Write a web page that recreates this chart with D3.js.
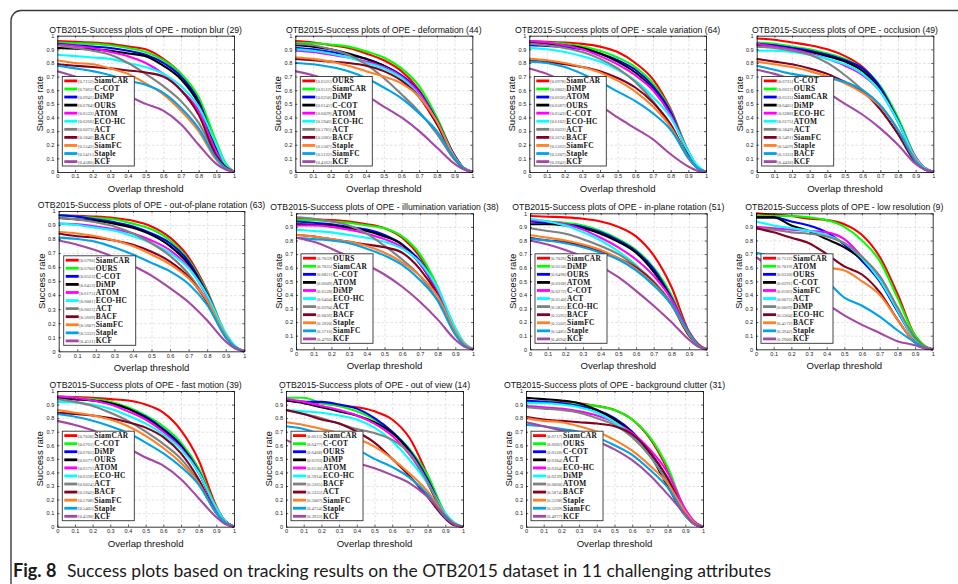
<!DOCTYPE html>
<html>
<head>
<meta charset="utf-8">
<script src="https://cdn.jsdelivr.net/npm/d3@7.9.0/dist/d3.min.js"></script>
<style>
  body { margin: 0; background: #fff; }
  svg { display: block; }
</style>
</head>
<body>
<svg id="fig" width="958" height="584"></svg>
<script>
const thresholds = [0, 0.1, 0.2, 0.3, 0.4, 0.5, 0.6, 0.7, 0.8, 0.9, 0.95, 1];
const tickValues = [0, 0.1, 0.2, 0.3, 0.4, 0.5, 0.6, 0.7, 0.8, 0.9, 1];
const tickLabels = ["0", "0.1", "0.2", "0.3", "0.4", "0.5", "0.6", "0.7", "0.8", "0.9", "1"];

// colours go by rank in the legend, not by tracker
const rankColors = ["#ff0000", "#00ff00", "#0000ff", "#000000", "#ff00ff", "#00ffff",
  "#808080", "#820020", "#ff7f27", "#00a2e8", "#a349a4"];

const titles = [
  "OTB2015-Success plots of OPE - motion blur (29)",
  "OTB2015-Success plots of OPE - deformation (44)",
  "OTB2015-Success plots of OPE - scale variation (64)",
  "OTB2015-Success plots of OPE - occlusion (49)",
  "OTB2015-Success plots of OPE - out-of-plane rotation (63)",
  "OTB2015-Success plots of OPE - illumination variation (38)",
  "OTB2015-Success plots of OPE - in-plane rotation (51)",
  "OTB2015-Success plots of OPE - low resolution (9)",
  "OTB2015-Success plots of OPE - fast motion (39)",
  "OTB2015-Success plots of OPE - out of view (14)",
  "OTB2015-Success plots of OPE - background clutter (31)"
];

const motionBlur = [
  ["SiamCAR", 0.7152, [0.96, 0.955, 0.95, 0.94, 0.92, 0.90, 0.83, 0.72, 0.53, 0.19, 0.06, 0]],
  ["C-COT", 0.7062, [0.95, 0.945, 0.94, 0.93, 0.91, 0.88, 0.82, 0.72, 0.55, 0.22, 0.07, 0]],
  ["DiMP", 0.6941, [0.94, 0.93, 0.92, 0.91, 0.89, 0.86, 0.80, 0.70, 0.52, 0.18, 0.05, 0]],
  ["OURS", 0.6784, [0.91, 0.905, 0.90, 0.89, 0.87, 0.85, 0.78, 0.68, 0.50, 0.16, 0.05, 0]],
  ["ATOM", 0.6533, [0.935, 0.925, 0.91, 0.88, 0.85, 0.80, 0.72, 0.60, 0.45, 0.15, 0.04, 0]],
  ["ECO-HC", 0.6266, [0.86, 0.85, 0.84, 0.83, 0.80, 0.77, 0.72, 0.63, 0.48, 0.20, 0.06, 0]],
  ["ACT", 0.6073, [0.93, 0.91, 0.89, 0.86, 0.80, 0.72, 0.63, 0.52, 0.36, 0.12, 0.04, 0]],
  ["BACF", 0.5846, [0.79, 0.78, 0.77, 0.76, 0.745, 0.73, 0.70, 0.60, 0.42, 0.12, 0.04, 0]],
  ["SiamFC", 0.5542, [0.82, 0.80, 0.79, 0.76, 0.72, 0.65, 0.57, 0.45, 0.30, 0.09, 0.03, 0]],
  ["Staple", 0.5411, [0.78, 0.76, 0.74, 0.71, 0.67, 0.64, 0.58, 0.47, 0.32, 0.10, 0.03, 0]],
  ["KCF", 0.4586, [0.74, 0.70, 0.66, 0.62, 0.56, 0.50, 0.45, 0.35, 0.20, 0.06, 0.02, 0]]
];

const deformation = [
  ["OURS", 0.6521, [0.96, 0.95, 0.93, 0.91, 0.87, 0.82, 0.74, 0.60, 0.38, 0.12, 0.03, 0]],
  ["SiamCAR", 0.6512, [0.95, 0.945, 0.935, 0.92, 0.885, 0.84, 0.76, 0.63, 0.40, 0.12, 0.03, 0]],
  ["DiMP", 0.6250, [0.91, 0.90, 0.88, 0.86, 0.83, 0.78, 0.71, 0.59, 0.38, 0.12, 0.03, 0]],
  ["C-COT", 0.6141, [0.93, 0.92, 0.90, 0.87, 0.83, 0.78, 0.70, 0.57, 0.36, 0.11, 0.03, 0]],
  ["ATOM", 0.6029, [0.89, 0.88, 0.86, 0.84, 0.81, 0.77, 0.70, 0.58, 0.37, 0.11, 0.03, 0]],
  ["ECO-HC", 0.5946, [0.90, 0.89, 0.87, 0.84, 0.80, 0.76, 0.69, 0.56, 0.36, 0.11, 0.03, 0]],
  ["ACT", 0.5781, [0.94, 0.93, 0.90, 0.86, 0.79, 0.69, 0.57, 0.44, 0.28, 0.09, 0.03, 0]],
  ["BACF", 0.5685, [0.83, 0.82, 0.81, 0.80, 0.78, 0.74, 0.67, 0.55, 0.35, 0.10, 0.03, 0]],
  ["Staple", 0.5507, [0.84, 0.83, 0.81, 0.78, 0.74, 0.70, 0.65, 0.55, 0.37, 0.11, 0.03, 0]],
  ["SiamFC", 0.5122, [0.80, 0.79, 0.77, 0.74, 0.69, 0.62, 0.54, 0.43, 0.30, 0.10, 0.03, 0]],
  ["KCF", 0.4362, [0.74, 0.71, 0.67, 0.62, 0.56, 0.48, 0.40, 0.30, 0.18, 0.06, 0.02, 0]]
];

const scaleVariation = [
  ["SiamCAR", 0.6978, [0.96, 0.955, 0.95, 0.94, 0.92, 0.88, 0.80, 0.68, 0.46, 0.15, 0.04, 0]],
  ["DiMP", 0.6802, [0.96, 0.95, 0.94, 0.92, 0.89, 0.84, 0.77, 0.65, 0.45, 0.15, 0.04, 0]],
  ["ATOM", 0.6636, [0.93, 0.925, 0.915, 0.90, 0.87, 0.82, 0.75, 0.63, 0.44, 0.14, 0.04, 0]],
  ["OURS", 0.6587, [0.95, 0.94, 0.93, 0.91, 0.87, 0.81, 0.73, 0.61, 0.42, 0.14, 0.04, 0]],
  ["C-COT", 0.6543, [0.96, 0.95, 0.93, 0.90, 0.85, 0.79, 0.71, 0.60, 0.42, 0.15, 0.04, 0]],
  ["ECO-HC", 0.6102, [0.91, 0.90, 0.88, 0.85, 0.81, 0.75, 0.67, 0.55, 0.40, 0.15, 0.05, 0]],
  ["ACT", 0.6022, [0.94, 0.93, 0.91, 0.88, 0.83, 0.76, 0.66, 0.52, 0.33, 0.10, 0.03, 0]],
  ["BACF", 0.5674, [0.82, 0.81, 0.79, 0.77, 0.74, 0.69, 0.62, 0.51, 0.35, 0.11, 0.03, 0]],
  ["SiamFC", 0.5562, [0.83, 0.82, 0.80, 0.77, 0.73, 0.67, 0.59, 0.48, 0.33, 0.11, 0.03, 0]],
  ["Staple", 0.5207, [0.81, 0.80, 0.77, 0.72, 0.66, 0.59, 0.52, 0.43, 0.31, 0.11, 0.03, 0]],
  ["KCF", 0.3942, [0.76, 0.72, 0.66, 0.58, 0.49, 0.40, 0.32, 0.24, 0.13, 0.04, 0.01, 0]]
];

const occlusion = [
  ["C-COT", 0.6735, [0.98, 0.97, 0.95, 0.93, 0.90, 0.85, 0.77, 0.62, 0.38, 0.10, 0.03, 0]],
  ["OURS", 0.6622, [0.95, 0.94, 0.92, 0.90, 0.87, 0.83, 0.76, 0.63, 0.40, 0.11, 0.03, 0]],
  ["SiamCAR", 0.6535, [0.94, 0.93, 0.91, 0.89, 0.86, 0.82, 0.76, 0.62, 0.38, 0.10, 0.03, 0]],
  ["DiMP", 0.6405, [0.93, 0.92, 0.90, 0.88, 0.85, 0.81, 0.74, 0.60, 0.37, 0.10, 0.03, 0]],
  ["ECO-HC", 0.6288, [0.94, 0.92, 0.90, 0.87, 0.83, 0.78, 0.71, 0.59, 0.37, 0.11, 0.03, 0]],
  ["ATOM", 0.6175, [0.89, 0.89, 0.88, 0.86, 0.83, 0.79, 0.72, 0.59, 0.37, 0.10, 0.03, 0]],
  ["ACT", 0.5849, [0.92, 0.91, 0.89, 0.86, 0.80, 0.71, 0.60, 0.46, 0.28, 0.08, 0.02, 0]],
  ["SiamFC", 0.5491, [0.83, 0.81, 0.79, 0.76, 0.72, 0.66, 0.59, 0.46, 0.28, 0.07, 0.02, 0]],
  ["Staple", 0.5429, [0.81, 0.79, 0.77, 0.74, 0.70, 0.65, 0.58, 0.48, 0.31, 0.09, 0.02, 0]],
  ["BACF", 0.5333, [0.78, 0.75, 0.72, 0.70, 0.69, 0.66, 0.60, 0.49, 0.31, 0.08, 0.02, 0]],
  ["KCF", 0.4430, [0.75, 0.72, 0.68, 0.64, 0.58, 0.50, 0.42, 0.32, 0.20, 0.06, 0.02, 0]]
];

const outOfPlane = [
  ["SiamCAR", 0.6790, [0.97, 0.965, 0.96, 0.95, 0.93, 0.89, 0.81, 0.67, 0.43, 0.12, 0.03, 0]],
  ["OURS", 0.6700, [0.97, 0.96, 0.95, 0.94, 0.91, 0.87, 0.79, 0.65, 0.42, 0.12, 0.03, 0]],
  ["C-COT", 0.6523, [0.97, 0.96, 0.94, 0.92, 0.89, 0.84, 0.77, 0.64, 0.41, 0.12, 0.03, 0]],
  ["DiMP", 0.6453, [0.95, 0.94, 0.93, 0.91, 0.88, 0.83, 0.75, 0.62, 0.40, 0.11, 0.03, 0]],
  ["ATOM", 0.6175, [0.91, 0.905, 0.89, 0.87, 0.84, 0.79, 0.72, 0.60, 0.39, 0.12, 0.03, 0]],
  ["ECO-HC", 0.6081, [0.91, 0.90, 0.88, 0.86, 0.82, 0.77, 0.70, 0.59, 0.40, 0.13, 0.04, 0]],
  ["ACT", 0.6023, [0.95, 0.94, 0.92, 0.89, 0.84, 0.77, 0.68, 0.55, 0.36, 0.11, 0.03, 0]],
  ["BACF", 0.5669, [0.84, 0.82, 0.81, 0.79, 0.76, 0.71, 0.64, 0.53, 0.35, 0.10, 0.03, 0]],
  ["SiamFC", 0.5607, [0.85, 0.84, 0.82, 0.79, 0.75, 0.69, 0.62, 0.52, 0.36, 0.11, 0.03, 0]],
  ["Staple", 0.5332, [0.81, 0.80, 0.78, 0.74, 0.69, 0.63, 0.57, 0.48, 0.33, 0.10, 0.03, 0]],
  ["KCF", 0.4531, [0.79, 0.76, 0.72, 0.67, 0.61, 0.54, 0.45, 0.35, 0.22, 0.07, 0.02, 0]]
];

const illumination = [
  ["OURS", 0.7059, [0.96, 0.955, 0.95, 0.94, 0.92, 0.89, 0.82, 0.68, 0.45, 0.14, 0.04, 0]],
  ["SiamCAR", 0.7035, [0.95, 0.95, 0.94, 0.93, 0.91, 0.89, 0.83, 0.70, 0.46, 0.14, 0.04, 0]],
  ["C-COT", 0.6821, [0.94, 0.93, 0.92, 0.90, 0.88, 0.84, 0.77, 0.65, 0.44, 0.14, 0.04, 0]],
  ["ATOM", 0.6609, [0.92, 0.915, 0.91, 0.89, 0.87, 0.83, 0.77, 0.63, 0.42, 0.13, 0.04, 0]],
  ["DiMP", 0.6528, [0.91, 0.91, 0.90, 0.88, 0.85, 0.81, 0.75, 0.63, 0.43, 0.14, 0.04, 0]],
  ["ECO-HC", 0.6404, [0.88, 0.87, 0.86, 0.84, 0.82, 0.79, 0.74, 0.64, 0.45, 0.16, 0.05, 0]],
  ["ACT", 0.6294, [0.97, 0.96, 0.94, 0.91, 0.85, 0.76, 0.66, 0.54, 0.36, 0.11, 0.03, 0]],
  ["BACF", 0.6036, [0.84, 0.83, 0.81, 0.79, 0.77, 0.75, 0.71, 0.59, 0.40, 0.12, 0.03, 0]],
  ["Staple", 0.5920, [0.84, 0.83, 0.81, 0.79, 0.76, 0.71, 0.64, 0.54, 0.39, 0.13, 0.04, 0]],
  ["SiamFC", 0.5716, [0.82, 0.81, 0.80, 0.78, 0.74, 0.69, 0.62, 0.51, 0.36, 0.11, 0.03, 0]],
  ["KCF", 0.4792, [0.82, 0.79, 0.74, 0.68, 0.62, 0.55, 0.46, 0.35, 0.22, 0.07, 0.02, 0]]
];

const inPlane = [
  ["SiamCAR", 0.7026, [0.98, 0.975, 0.97, 0.96, 0.94, 0.90, 0.83, 0.69, 0.46, 0.13, 0.04, 0]],
  ["DiMP", 0.6550, [0.95, 0.94, 0.93, 0.91, 0.87, 0.81, 0.73, 0.60, 0.40, 0.12, 0.03, 0]],
  ["OURS", 0.6490, [0.94, 0.93, 0.92, 0.90, 0.86, 0.80, 0.72, 0.59, 0.38, 0.12, 0.03, 0]],
  ["ATOM", 0.6368, [0.92, 0.92, 0.91, 0.89, 0.85, 0.79, 0.71, 0.57, 0.37, 0.11, 0.03, 0]],
  ["C-COT", 0.6272, [0.95, 0.94, 0.92, 0.88, 0.82, 0.75, 0.66, 0.54, 0.37, 0.12, 0.03, 0]],
  ["ACT", 0.6140, [0.96, 0.94, 0.91, 0.86, 0.80, 0.72, 0.62, 0.49, 0.33, 0.11, 0.03, 0]],
  ["ECO-HC", 0.5825, [0.89, 0.87, 0.85, 0.81, 0.76, 0.70, 0.61, 0.50, 0.34, 0.11, 0.03, 0]],
  ["BACF", 0.5595, [0.82, 0.80, 0.79, 0.76, 0.72, 0.67, 0.60, 0.49, 0.33, 0.10, 0.03, 0]],
  ["SiamFC", 0.5502, [0.84, 0.82, 0.80, 0.77, 0.73, 0.67, 0.59, 0.48, 0.33, 0.11, 0.03, 0]],
  ["Staple", 0.5485, [0.81, 0.80, 0.78, 0.75, 0.71, 0.66, 0.58, 0.47, 0.33, 0.12, 0.03, 0]],
  ["KCF", 0.4694, [0.80, 0.77, 0.73, 0.68, 0.61, 0.53, 0.43, 0.32, 0.20, 0.07, 0.02, 0]]
];

const lowResolution = [
  ["SiamCAR", 0.7122, [1.0, 0.99, 0.98, 0.96, 0.95, 0.92, 0.84, 0.68, 0.41, 0.10, 0.03, 0]],
  ["ATOM", 0.7019, [0.98, 0.98, 0.98, 0.97, 0.95, 0.90, 0.80, 0.65, 0.38, 0.10, 0.03, 0]],
  ["OURS", 0.6320, [0.97, 0.97, 0.94, 0.91, 0.86, 0.77, 0.65, 0.50, 0.28, 0.07, 0.02, 0]],
  ["C-COT", 0.6291, [0.97, 0.97, 0.91, 0.87, 0.81, 0.75, 0.66, 0.52, 0.30, 0.08, 0.02, 0]],
  ["SiamFC", 0.6183, [0.90, 0.89, 0.88, 0.87, 0.86, 0.81, 0.68, 0.52, 0.30, 0.07, 0.02, 0]],
  ["ACT", 0.6075, [0.94, 0.91, 0.89, 0.87, 0.84, 0.78, 0.67, 0.51, 0.29, 0.07, 0.02, 0]],
  ["DiMP", 0.6069, [0.89, 0.88, 0.86, 0.85, 0.83, 0.78, 0.68, 0.54, 0.31, 0.08, 0.02, 0]],
  ["ECO-HC", 0.5304, [0.89, 0.86, 0.82, 0.78, 0.70, 0.61, 0.55, 0.42, 0.22, 0.05, 0.01, 0]],
  ["BACF", 0.4572, [0.67, 0.64, 0.62, 0.61, 0.60, 0.58, 0.50, 0.40, 0.22, 0.05, 0.01, 0]],
  ["Staple", 0.3942, [0.71, 0.68, 0.64, 0.58, 0.50, 0.38, 0.32, 0.24, 0.14, 0.05, 0.01, 0]],
  ["KCF", 0.2900, [0.68, 0.58, 0.47, 0.39, 0.33, 0.25, 0.18, 0.12, 0.06, 0.03, 0.01, 0]]
];

const fastMotion = [
  ["SiamCAR", 0.7030, [0.96, 0.955, 0.95, 0.94, 0.93, 0.90, 0.84, 0.71, 0.49, 0.15, 0.04, 0]],
  ["C-COT", 0.6761, [0.96, 0.95, 0.94, 0.92, 0.88, 0.82, 0.74, 0.62, 0.43, 0.14, 0.04, 0]],
  ["DiMP", 0.6705, [0.95, 0.94, 0.93, 0.91, 0.87, 0.81, 0.72, 0.60, 0.41, 0.13, 0.04, 0]],
  ["OURS", 0.6677, [0.95, 0.94, 0.93, 0.91, 0.87, 0.80, 0.71, 0.59, 0.40, 0.13, 0.04, 0]],
  ["ATOM", 0.6571, [0.96, 0.95, 0.93, 0.90, 0.85, 0.79, 0.70, 0.58, 0.40, 0.13, 0.04, 0]],
  ["ECO-HC", 0.6339, [0.92, 0.915, 0.90, 0.87, 0.82, 0.76, 0.68, 0.57, 0.40, 0.14, 0.04, 0]],
  ["ACT", 0.6024, [0.94, 0.92, 0.89, 0.84, 0.78, 0.70, 0.61, 0.50, 0.33, 0.10, 0.03, 0]],
  ["BACF", 0.5942, [0.84, 0.83, 0.82, 0.80, 0.77, 0.73, 0.66, 0.54, 0.35, 0.10, 0.03, 0]],
  ["SiamFC", 0.5708, [0.86, 0.84, 0.82, 0.79, 0.74, 0.67, 0.58, 0.47, 0.32, 0.10, 0.03, 0]],
  ["Staple", 0.5405, [0.83, 0.81, 0.78, 0.74, 0.69, 0.62, 0.54, 0.44, 0.31, 0.10, 0.03, 0]],
  ["KCF", 0.4590, [0.78, 0.75, 0.71, 0.65, 0.58, 0.51, 0.45, 0.35, 0.21, 0.07, 0.02, 0]]
];

const outOfView = [
  ["SiamCAR", 0.6613, [0.93, 0.92, 0.91, 0.89, 0.88, 0.85, 0.79, 0.65, 0.38, 0.08, 0.02, 0]],
  ["C-COT", 0.6477, [0.95, 0.95, 0.91, 0.89, 0.85, 0.79, 0.70, 0.57, 0.38, 0.10, 0.03, 0]],
  ["OURS", 0.6468, [0.93, 0.92, 0.92, 0.90, 0.87, 0.80, 0.70, 0.56, 0.35, 0.09, 0.02, 0]],
  ["DiMP", 0.6193, [0.93, 0.91, 0.88, 0.85, 0.82, 0.77, 0.69, 0.55, 0.32, 0.08, 0.02, 0]],
  ["ATOM", 0.6130, [0.94, 0.92, 0.89, 0.86, 0.82, 0.76, 0.67, 0.53, 0.33, 0.09, 0.02, 0]],
  ["ECO-HC", 0.5924, [0.86, 0.85, 0.84, 0.82, 0.79, 0.73, 0.63, 0.49, 0.32, 0.10, 0.03, 0]],
  ["BACF", 0.5365, [0.86, 0.83, 0.80, 0.76, 0.72, 0.69, 0.64, 0.54, 0.33, 0.08, 0.02, 0]],
  ["ACT", 0.5355, [0.86, 0.83, 0.79, 0.76, 0.70, 0.62, 0.50, 0.37, 0.22, 0.06, 0.01, 0]],
  ["SiamFC", 0.5087, [0.77, 0.75, 0.72, 0.69, 0.65, 0.59, 0.50, 0.39, 0.26, 0.08, 0.02, 0]],
  ["Staple", 0.4754, [0.74, 0.72, 0.68, 0.62, 0.57, 0.50, 0.44, 0.36, 0.24, 0.07, 0.02, 0]],
  ["KCF", 0.3933, [0.64, 0.58, 0.53, 0.50, 0.47, 0.43, 0.38, 0.32, 0.22, 0.08, 0.02, 0]]
];

const backgroundClutter = [
  ["SiamCAR", 0.6717, [0.93, 0.92, 0.92, 0.91, 0.89, 0.86, 0.79, 0.65, 0.42, 0.11, 0.03, 0]],
  ["OURS", 0.6682, [0.92, 0.92, 0.91, 0.90, 0.89, 0.86, 0.79, 0.66, 0.44, 0.12, 0.03, 0]],
  ["C-COT", 0.6520, [0.93, 0.92, 0.91, 0.89, 0.86, 0.80, 0.70, 0.55, 0.35, 0.10, 0.03, 0]],
  ["ACT", 0.6384, [0.95, 0.94, 0.93, 0.91, 0.86, 0.79, 0.69, 0.53, 0.30, 0.08, 0.02, 0]],
  ["ECO-HC", 0.6364, [0.89, 0.88, 0.87, 0.85, 0.82, 0.77, 0.69, 0.57, 0.40, 0.13, 0.04, 0]],
  ["DiMP", 0.6239, [0.91, 0.91, 0.90, 0.88, 0.84, 0.77, 0.67, 0.52, 0.33, 0.08, 0.02, 0]],
  ["ATOM", 0.6060, [0.88, 0.87, 0.86, 0.84, 0.80, 0.75, 0.66, 0.52, 0.33, 0.09, 0.02, 0]],
  ["BACF", 0.5874, [0.81, 0.79, 0.78, 0.77, 0.76, 0.74, 0.68, 0.55, 0.36, 0.10, 0.03, 0]],
  ["Staple", 0.5598, [0.80, 0.78, 0.77, 0.74, 0.70, 0.64, 0.56, 0.45, 0.32, 0.11, 0.03, 0]],
  ["SiamFC", 0.5269, [0.75, 0.74, 0.72, 0.70, 0.66, 0.60, 0.53, 0.42, 0.29, 0.09, 0.02, 0]],
  ["KCF", 0.4977, [0.77, 0.74, 0.71, 0.68, 0.63, 0.57, 0.49, 0.38, 0.24, 0.09, 0.02, 0]]
];

const panelData = [motionBlur, deformation, scaleVariation, occlusion, outOfPlane,
  illumination, inPlane, lowResolution, fastMotion, outOfView, backgroundClutter];

// plot boxes [left, top, right, bottom] in page pixels
const boxes = [
  [57.3, 35.7, 234, 172], [295.3, 35.7, 472.3, 172], [529.3, 35.7, 706, 172], [756.7, 35.7, 933.3, 172],
  [58.7, 211, 244.3, 351.3], [296, 213.3, 473, 349.3], [530, 213.3, 706.7, 349.3], [756, 213.3, 932.7, 349.3],
  [57.3, 391, 234, 526.7], [286, 391, 463, 526.7], [526, 391, 703, 526.7]
];

const svg = d3.select("#fig");

// rounded frame of the figure
svg.append("rect")
  .attr("x", 11).attr("y", 10.5)
  .attr("width", 1000).attr("height", 640)
  .attr("rx", 10)
  .attr("fill", "none")
  .attr("stroke", "#3a3a3a")
  .attr("stroke-width", 1.4);

function drawPanel(i) {
  const [left, top, right, bottom] = boxes[i];
  const series = panelData[i];
  const x = d3.scaleLinear().domain([0, 1]).range([left, right]);
  const y = d3.scaleLinear().domain([0, 1]).range([bottom, top]);
  const g = svg.append("g").attr("class", "panel");

  g.append("rect")
    .attr("x", left).attr("y", top)
    .attr("width", right - left).attr("height", bottom - top)
    .attr("fill", "#fff");

  // --- dashed grid ---
  const inner = tickValues.slice(1, -1);
  g.append("g")
    .attr("transform", `translate(0,${bottom})`)
    .call(d3.axisBottom(x).tickValues(inner).tickSize(-(bottom - top)).tickFormat(""))
    .call((s) => s.select(".domain").remove())
    .selectAll("line")
    .attr("stroke", "#cfcfcf").attr("stroke-width", 0.6).attr("stroke-dasharray", "2.5,2");
  g.append("g")
    .attr("transform", `translate(${left},0)`)
    .call(d3.axisLeft(y).tickValues(inner).tickSize(-(right - left)).tickFormat(""))
    .call((s) => s.select(".domain").remove())
    .selectAll("line")
    .attr("stroke", "#cfcfcf").attr("stroke-width", 0.6).attr("stroke-dasharray", "2.5,2");

  // --- curves ---
  const line = d3.line()
    .x((d, k) => x(thresholds[k]))
    .y((d) => y(d))
    .curve(d3.curveMonotoneX);

  g.append("g")
    .selectAll("path")
    .data(series)
    .join("path")
    .attr("d", (d) => line(d[2]))
    .attr("fill", "none")
    .attr("stroke", (d, k) => rankColors[k])
    .attr("stroke-width", 2.1)
    .attr("stroke-linejoin", "round");

  // --- axes, ticks pointing inward on all sides ---
  const fmt = (d) => tickLabels[tickValues.indexOf(d)];
  const styleAxis = (s) => {
    s.select(".domain").attr("stroke", "#000").attr("stroke-width", 0.8);
    s.selectAll(".tick line").attr("stroke", "#000").attr("stroke-width", 0.6);
    s.selectAll("text").attr("font-family", "Liberation Sans, Arial, sans-serif")
      .attr("font-size", 5.6).attr("fill", "#222");
  };
  g.append("g").attr("transform", `translate(0,${bottom})`)
    .call(d3.axisBottom(x).tickValues(tickValues).tickFormat(fmt).tickSizeInner(-2).tickSizeOuter(0).tickPadding(2.5))
    .call(styleAxis);
  g.append("g").attr("transform", `translate(${left},0)`)
    .call(d3.axisLeft(y).tickValues(tickValues).tickFormat(fmt).tickSizeInner(-2).tickSizeOuter(0).tickPadding(3))
    .call(styleAxis);
  g.append("g").attr("transform", `translate(0,${top})`)
    .call(d3.axisTop(x).tickValues(tickValues).tickFormat("").tickSizeInner(-2).tickSizeOuter(0))
    .call(styleAxis);
  g.append("g").attr("transform", `translate(${right},0)`)
    .call(d3.axisRight(y).tickValues(tickValues).tickFormat("").tickSizeInner(-2).tickSizeOuter(0))
    .call(styleAxis);

  // --- title and axis labels ---
  g.append("text")
    .attr("x", (left + right) / 2).attr("y", top - 3)
    .attr("text-anchor", "middle")
    .attr("font-family", "Liberation Sans, Arial, sans-serif")
    .attr("font-size", 8.7)
    .attr("fill", "#111")
    .text(titles[i]);

  g.append("text")
    .attr("x", (left + right) / 2).attr("y", bottom + 20)
    .attr("text-anchor", "middle")
    .attr("font-family", "Liberation Sans, Arial, sans-serif")
    .attr("font-size", 9.6)
    .attr("fill", "#111")
    .text("Overlap threshold");

  g.append("text")
    .attr("transform", `translate(${left - 14},${(top + bottom) / 2}) rotate(-90)`)
    .attr("text-anchor", "middle")
    .attr("font-family", "Liberation Sans, Arial, sans-serif")
    .attr("font-size", 9.6)
    .attr("fill", "#111")
    .text("Success rate");

  // --- legend ---
  const lgH = 89.5, lgW = 72, rowH = 8.07;
  const lg = g.append("g").attr("transform", `translate(${left + 5},${bottom - 6 - lgH})`);
  lg.append("rect")
    .attr("width", lgW).attr("height", lgH)
    .attr("fill", "#fff").attr("stroke", "#333").attr("stroke-width", 0.9);
  const rows = lg.selectAll("g.row")
    .data(series)
    .join("g")
    .attr("class", "row")
    .attr("transform", (d, k) => `translate(0,${4.4 + k * rowH})`);
  rows.append("line")
    .attr("x1", 2).attr("x2", 15)
    .attr("stroke", (d, k) => rankColors[k])
    .attr("stroke-width", 2.8);
  rows.append("text")
    .attr("x", 15.6).attr("y", 2.1)
    .attr("font-family", "Liberation Serif, Times New Roman, serif")
    .attr("font-size", 4.6).attr("fill", "#4a4a4a")
    .text((d) => `[${d[1].toFixed(4)}]`);
  rows.append("text")
    .attr("x", 32).attr("y", 2.4)
    .attr("font-family", "Liberation Serif, Times New Roman, serif")
    .attr("font-size", 7.4).attr("font-weight", "bold")
    .attr("letter-spacing", 0.3).attr("fill", "#111")
    .text((d) => d[0]);
}

d3.range(boxes.length).forEach(drawPanel);

// caption
const cap = svg.append("text")
  .attr("x", 13).attr("y", 577)
  .attr("font-family", "Lato, Open Sans, sans-serif")
  .attr("font-size", 18)
  .attr("fill", "#1a1a1a");
cap.append("tspan").attr("font-weight", "bold").text("Fig. 8");
cap.append("tspan").attr("x", 67).attr("textLength", 704).attr("lengthAdjust", "spacingAndGlyphs")
  .text("Success plots based on tracking results on the OTB2015 dataset in 11 challenging attributes");
</script>
</body>
</html>
